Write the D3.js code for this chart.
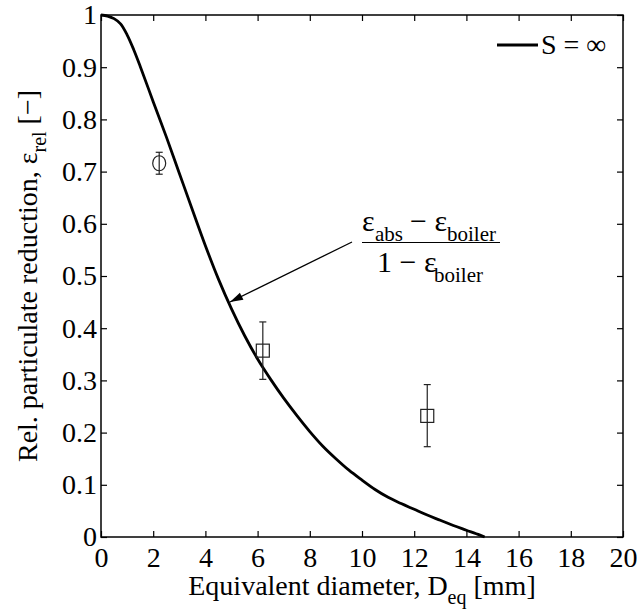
<!DOCTYPE html>
<html>
<head>
<meta charset="utf-8">
<script src="https://cdn.jsdelivr.net/npm/d3@7"></script>
<style>
  html, body { margin: 0; padding: 0; background: #fff; }
  svg { display: block; }
  svg text { font-family: "Liberation Serif", "Times New Roman", Times, "DejaVu Serif", serif; fill: #000; }
</style>
</head>
<body>
<svg id="chart" width="637" height="610"></svg>
<script>
// Model curve: relative particulate reduction vs equivalent diameter (S = ∞)
const curveD = [0, 0.25, 0.5, 0.75, 1.0, 1.25, 1.5, 2.0, 2.5, 3.0, 3.5, 4.0, 4.5, 5.0, 5.5, 6.0, 6.5,
                7.0, 7.5, 8.0, 8.5, 9.0, 9.5, 10.0, 10.5, 11.0, 11.5, 12.0, 12.5, 13.0, 13.5, 14.0, 14.5, 14.7];
const curveEps = [1.000, 0.998, 0.993, 0.983, 0.962, 0.934, 0.902, 0.834, 0.767, 0.697, 0.627, 0.558,
                  0.494, 0.437, 0.386, 0.341, 0.302, 0.266, 0.233, 0.202, 0.174, 0.150, 0.128, 0.109,
                  0.091, 0.076, 0.064, 0.053, 0.042, 0.032, 0.022, 0.013, 0.004, 0.000];

// Measurements with error bars
const measKind = ["circle", "square", "square"];
const measD    = [2.23, 6.2, 12.5];
const measEps  = [0.716, 0.357, 0.232];
const measLow  = [0.695, 0.302, 0.173];
const measHigh = [0.737, 0.412, 0.292];

// Axis ticks
const xTicks = [0, 2, 4, 6, 8, 10, 12, 14, 16, 18, 20];
const yTicks = [0, 0.1, 0.2, 0.3, 0.4, 0.5, 0.6, 0.7, 0.8, 0.9, 1];

const FONT = '"Liberation Serif", "Times New Roman", Times, "DejaVu Serif", serif';
const svg = d3.select("#chart").attr("font-family", FONT);
const L = 101, R = 623, T = 15, B = 537;
const x = d3.scaleLinear().domain([0, 20]).range([L, R]);
const y = d3.scaleLinear().domain([0, 1]).range([B, T]);
const FS = 28;

const fmt = d => d3.format("")(d);

// axes with inward ticks on all four sides
const gx = svg.append("g").attr("transform", `translate(0,${B})`)
  .call(d3.axisBottom(x).tickValues(xTicks).tickFormat(fmt).tickSizeInner(-6).tickSizeOuter(0).tickPadding(10));
const gxt = svg.append("g").attr("transform", `translate(0,${T})`)
  .call(d3.axisTop(x).tickValues(xTicks).tickFormat("").tickSizeInner(-6).tickSizeOuter(0));
const gy = svg.append("g").attr("transform", `translate(${L},0)`)
  .call(d3.axisLeft(y).tickValues(yTicks).tickFormat(fmt).tickSizeInner(-6).tickSizeOuter(0).tickPadding(4));
const gyr = svg.append("g").attr("transform", `translate(${R},0)`)
  .call(d3.axisRight(y).tickValues(yTicks).tickFormat("").tickSizeInner(-6).tickSizeOuter(0));

[gx, gxt, gy, gyr].forEach(g => {
  g.attr("font-family", FONT).attr("font-size", FS);
  g.select(".domain").remove();
  g.selectAll(".tick line").attr("stroke", "#000").attr("stroke-width", 1.2);
  g.selectAll(".tick text").attr("fill", "#000").attr("font-family", FONT)
    .style("font-size", FS + "px");
});

// plot box
svg.append("rect").attr("x", L).attr("y", T).attr("width", R - L).attr("height", B - T)
  .attr("fill", "none").attr("stroke", "#000").attr("stroke-width", 1.5);

// model curve
const pts = curveD.map((d, i) => [d, curveEps[i]]);
svg.append("path").datum(pts)
  .attr("d", d3.line().x(d => x(d[0])).y(d => y(d[1])).curve(d3.curveCatmullRom.alpha(0.5)))
  .attr("fill", "none").attr("stroke", "#000").attr("stroke-width", 2.8)
  .attr("stroke-linejoin", "round");

// error bars and markers
const ink = "#222";
measD.forEach((d, i) => {
  const cx = x(d), cy = y(measEps[i]);
  const g = svg.append("g").attr("stroke", ink).attr("stroke-width", 1.2).attr("fill", "none");
  g.append("line").attr("x1", cx).attr("x2", cx).attr("y1", y(measLow[i])).attr("y2", y(measHigh[i]));
  [measLow[i], measHigh[i]].forEach(v => {
    g.append("line").attr("x1", cx - 3.5).attr("x2", cx + 3.5).attr("y1", y(v)).attr("y2", y(v));
  });
  if (measKind[i] === "circle") {
    g.append("ellipse").attr("cx", cx).attr("cy", cy).attr("rx", 6.5).attr("ry", 7.5);
  } else {
    g.append("rect").attr("x", cx - 6.5).attr("y", cy - 6.5).attr("width", 13).attr("height", 13);
  }
});

// legend
svg.append("line").attr("x1", 497).attr("x2", 538).attr("y1", 45).attr("y2", 45)
  .attr("stroke", "#000").attr("stroke-width", 2.8);
svg.append("text").attr("x", 541).attr("y", 54).style("font-size", FS + "px").text("S = ∞");

// annotation: fraction with arrow pointing at the curve
const ann = svg.append("g").style("font-size", "30px");
const num = ann.append("text").attr("y", 231);
num.append("tspan").attr("x", 362).text("ε");
num.append("tspan").attr("x", 375).attr("dy", 10).style("font-size", "21px").text("abs");
num.append("tspan").attr("x", 410).attr("dy", -10).text("− ε");
num.append("tspan").attr("x", 447).attr("dy", 10).style("font-size", "21px").text("boiler");
ann.append("line").attr("x1", 362).attr("x2", 500).attr("y1", 242.5).attr("y2", 242.5)
  .attr("stroke", "#000").attr("stroke-width", 1.2);
const den = ann.append("text").attr("y", 272);
den.append("tspan").attr("x", 377).text("1 − ε");
den.append("tspan").attr("x", 434).attr("dy", 10).style("font-size", "21px").text("boiler");

const ax0 = 352, ay0 = 242, ax1 = 230, ay1 = 302;
svg.append("line").attr("x1", ax0).attr("y1", ay0).attr("x2", ax1).attr("y2", ay1)
  .attr("stroke", "#000").attr("stroke-width", 1.3);
const ang = Math.atan2(ay1 - ay0, ax1 - ax0), hl = 13, hw = 4;
const bx = ax1 - hl * Math.cos(ang), by = ay1 - hl * Math.sin(ang);
svg.append("path")
  .attr("d", `M${ax1},${ay1}L${bx - hw * Math.sin(ang)},${by + hw * Math.cos(ang)}L${bx + hw * Math.sin(ang)},${by - hw * Math.cos(ang)}Z`)
  .attr("fill", "#000");

// axis titles
const xl = svg.append("text").attr("x", (L + R) / 2).attr("y", 595)
  .attr("text-anchor", "middle").style("font-size", FS + "px");
xl.append("tspan").text("Equivalent diameter, D");
xl.append("tspan").attr("dy", 9).style("font-size", "20px").text("eq");
xl.append("tspan").attr("dy", -9).text(" [mm]");

const yl = svg.append("text").attr("transform", `translate(37,${(T + B) / 2}) rotate(-90)`)
  .attr("text-anchor", "middle").style("font-size", FS + "px");
yl.append("tspan").text("Rel. particulate reduction, ε");
yl.append("tspan").attr("dy", 9).style("font-size", "20px").text("rel");
yl.append("tspan").attr("dy", -9).text(" [−]");
</script>
</body>
</html>
